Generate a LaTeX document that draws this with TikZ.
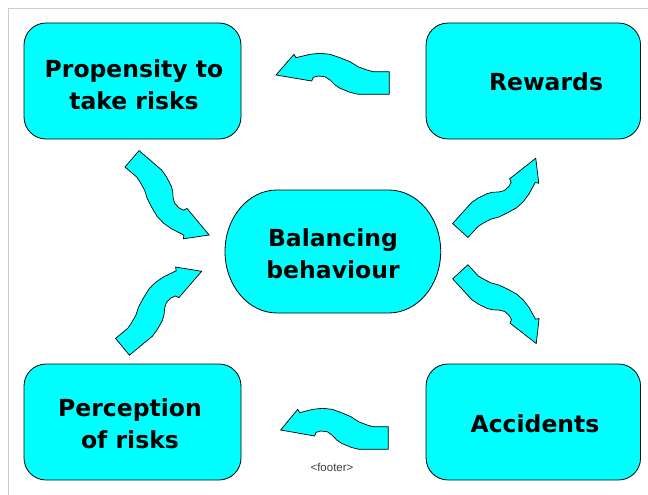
\documentclass[tikz,border=0pt]{standalone}
\usepackage{fontspec}
\setmainfont{DejaVu Sans}
\newfontfamily\footfont{Liberation Sans}
\definecolor{aqua}{RGB}{0,255,255}
% one wavy block arrow: tail centred at the origin, pointing along +x
\newcommand\drawwave[1]{%
  \begin{scope}[#1]
    \draw[wave] (0,-11.3) -- (16.3,-11.3) -- (22.3,-13) -- (31.3,-16.3) -- (39.3,-21.3)
      -- (49.3,-25.3) -- (59.3,-28.7) -- (69.3,-29.7) -- (79.3,-28.7) -- (86.3,-27)
      -- (93.3,-25.3) -- (95.3,-28.7) -- (113.3,-8) -- (77.6,-2) -- (76,-5.7)
      -- (71,-7) -- (64.3,-6.3) -- (59.3,-3) -- (54.3,2) -- (49.3,5.3)
      -- (39.3,9.3) -- (31,11.3) -- (0,11.3) -- cycle;
  \end{scope}}
\begin{document}
\begin{tikzpicture}[x=1pt,y=-1pt,
  panel/.style={draw=black, line width=0.8pt, fill=aqua, rounded corners=22pt,
    inner sep=0pt, minimum height=116pt},
  caption/.style={font=\bfseries\fontsize{23.5}{32}\selectfont, align=center, text=black},
  wave/.style={draw=black, line width=0.7pt, fill=aqua, line join=miter}]
\useasboundingbox (0,0) rectangle (648,495);

% slide frame
\draw[black!20, line width=0.8pt] (8,495) -- (8,8) -- (648,8);

% corner panels
\node[panel, minimum width=217pt]   (prop) at (132.5,81)  {};
\node[panel, minimum width=214.5pt] (rew)  at (533.3,81)  {};
\node[panel, minimum width=217pt]   (perc) at (132.5,422) {};
\node[panel, minimum width=214.5pt] (acc)  at (533.3,422) {};

% central stadium shape
\draw[black, line width=0.8pt, fill=aqua]
  (277,190) -- (388.7,190)
  .. controls (417.4,190) and (440.7,217.5) .. (440.7,251.5)
  .. controls (440.7,285.5) and (417.4,313) .. (388.7,313)
  -- (277,313)
  .. controls (248.3,313) and (225,285.5) .. (225,251.5)
  .. controls (225,217.5) and (248.3,190) .. (277,190) -- cycle;

% captions
\node[caption] (propT) at (134,85)  {Propensity to\\take risks};
\node[caption] (rewT)  at (546,82)  {Rewards};
\node[caption] (balT)  at (333,254) {Balancing\\behaviour};
\node[caption] (percT) at (130,424) {Perception\\of risks};
\node[caption] (accT)  at (535,424) {Accidents};

% wavy block arrows
\drawwave{shift={(389.3,83)}, xscale=-1}
\drawwave{shift={(388.3,438)}, xscale=-0.95}
\drawwave{shift={(132,158.8)}, rotate=-40.6, yscale=-1, scale=0.955}
\drawwave{shift={(122.5,346.8)}, rotate=39.6, scale=0.963}
\drawwave{shift={(460.3,230.5)}, rotate=47.8, yscale=-1, scale=0.92}
\drawwave{shift={(460.3,271.8)}, rotate=-47.4, scale=0.92}

% footer
\node[font=\footfont\fontsize{11.5}{13}\selectfont, text=black!75] (foot) at (332,467) {<footer>};
\end{tikzpicture}
\end{document}
